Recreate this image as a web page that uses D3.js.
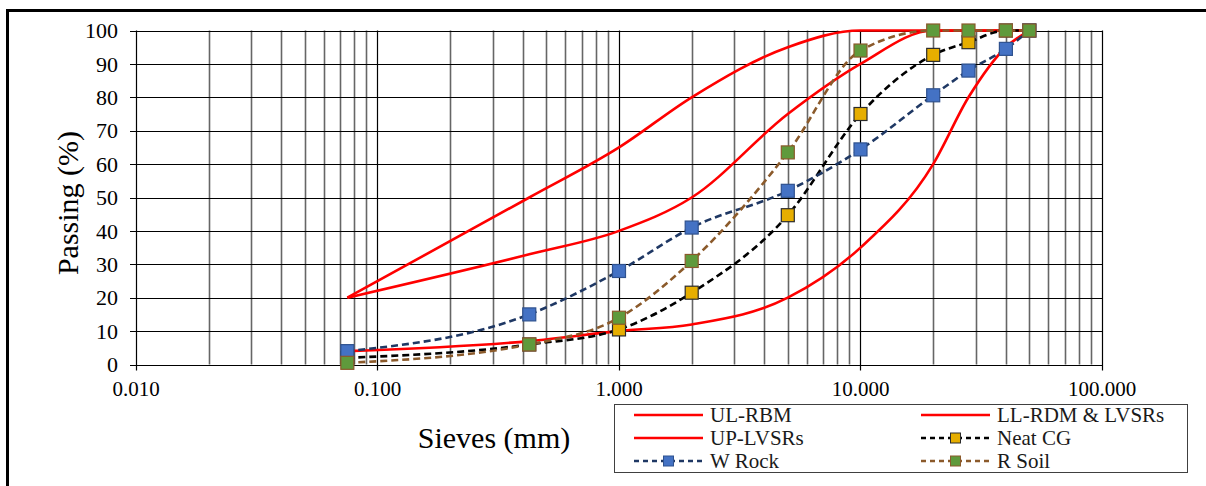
<!DOCTYPE html>
<meta charset="utf-8">
<style>
body { margin: 0; background: #fff; }
svg text { font-family: "Times New Roman", Times, "Liberation Serif", serif; }
.grid-h line { stroke: #000; stroke-width: 1; }
.grid-minor line { stroke: #666; stroke-width: 1.6; }
.grid-major line { stroke: #000; stroke-width: 1.2; }
.tick-label { font-size: 21px; fill: #000; }
.title { font-size: 30px; fill: #000; }
.legend text { font-size: 21px; fill: #1a1a1a; }
</style>
<svg width="1206" height="486"></svg>
<script src="https://d3js.org/d3.v7.min.js"></script>
<script>

var sieves = [0.075, 0.425, 1, 2, 5, 10, 20, 28, 40, 50];
var ulRbm  = [20, 50, 65, 80, 95, 100, 100, 100, 100, 100];
var llRdm  = [4, 7, 10, 12, 20, 35, 60, 80, 95, 100];
var upLvsr = [20, 33, 40, 50, 75, 90, 100, 100, 100, 100];
var neatCg = [2, 6, 10.5, 21.5, 44.7, 75, 92.7, 96.5, 100, 100];
var wRock  = [4, 15, 28, 41, 52, 64.4, 80.6, 88, 94.5, 100];
var rSoil  = [0.5, 6, 14, 31, 63.5, 94, 100, 100, 100, 100];

var xTicks = [0.01, 0.1, 1, 10, 100];
var yTicks = [0, 10, 20, 30, 40, 50, 60, 70, 80, 90, 100];

var series = [
  {name: "UL-RBM", values: ulRbm, color: "#ff0000", dash: null, marker: null},
  {name: "LL-RDM & LVSRs", values: llRdm, color: "#ff0000", dash: null, marker: null},
  {name: "UP-LVSRs", values: upLvsr, color: "#ff0000", dash: null, marker: null},
  {name: "Neat CG", values: neatCg, color: "#000000", dash: "7,4", marker: {fill: "#e6ae00", stroke: "#2b2b2b"}},
  {name: "W Rock", values: wRock, color: "#1f3864", dash: "7,4", marker: {fill: "#4472c4", stroke: "#2f528f"}},
  {name: "R Soil", values: rSoil, color: "#8b5a2b", dash: "7,4", marker: {fill: "#5f9a3c", stroke: "#8b5a2b"}}
];

var svg = d3.select("svg");
var serif = "'Times New Roman', Times, 'Liberation Serif', serif";

// outer frame
svg.append("path")
    .attr("d", "M7.5,490 L7.5,10.5 L1210,10.5")
    .attr("fill", "none")
    .attr("stroke", "#000")
    .attr("stroke-width", 3);

var x = d3.scaleLog().domain([0.01, 100]).range([136, 1102]);
var y = d3.scaleLinear().domain([0, 100]).range([364.5, 30.5]);

// minor vertical grid
var minors = [];
[0.01, 0.1, 1, 10].forEach(function(d) {
  for (var k = 2; k <= 9; k++) minors.push(d * k);
});

svg.append("g").attr("class", "grid-minor")
  .selectAll("line").data(minors).enter().append("line")
    .attr("x1", function(d) { return Math.round(x(d)) + 0.5; })
    .attr("x2", function(d) { return Math.round(x(d)) + 0.5; })
    .attr("y1", y(100)).attr("y2", y(0));

svg.append("g").attr("class", "grid-h")
  .selectAll("line").data(yTicks).enter().append("line")
    .attr("x1", x(0.01) - 6).attr("x2", x(100))
    .attr("y1", function(d) { return Math.round(y(d)) + 0.5; })
    .attr("y2", function(d) { return Math.round(y(d)) + 0.5; });

svg.append("g").attr("class", "grid-major")
  .selectAll("line").data(xTicks).enter().append("line")
    .attr("x1", function(d) { return Math.round(x(d)) + 0.5; })
    .attr("x2", function(d) { return Math.round(x(d)) + 0.5; })
    .attr("y1", y(100)).attr("y2", y(0) + 6);

// tick labels
svg.append("g").selectAll("text").data(yTicks).enter().append("text")
    .attr("class", "tick-label")
    .attr("font-family", serif)
    .attr("x", 118)
    .attr("y", function(d) { return y(d); })
    .attr("dy", "0.35em")
    .attr("text-anchor", "end")
    .style("font-size", "22px")
    .text(function(d) { return d; });

svg.append("g").selectAll("text").data(xTicks).enter().append("text")
    .attr("class", "tick-label")
    .attr("font-family", serif)
    .attr("x", function(d) { return x(d); })
    .attr("y", 396)
    .attr("text-anchor", "middle")
    .text(function(d) { return d3.format(".3f")(d); });

svg.append("text").attr("class", "title")
    .attr("font-family", serif)
    .attr("transform", "translate(78,203) rotate(-90)")
    .attr("text-anchor", "middle")
    .text("Passing (%)");

svg.append("text").attr("class", "title")
    .attr("font-family", serif)
    .attr("x", 494).attr("y", 448)
    .attr("text-anchor", "middle")
    .text("Sieves (mm)");

// curves
var line = d3.line()
    .x(function(d) { return x(d[0]); })
    .y(function(d) { return y(d[1]); })
    .curve(d3.curveMonotoneX);

series.forEach(function(s) {
  var pts = sieves.map(function(v, i) { return [v, s.values[i]]; });
  svg.append("path")
      .attr("d", line(pts))
      .attr("fill", "none")
      .attr("stroke", s.color)
      .attr("stroke-width", 2.6)
      .attr("stroke-dasharray", s.dash);
});

series.forEach(function(s) {
  if (!s.marker) return;
  var pts = sieves.map(function(v, i) { return [v, s.values[i]]; });
  svg.append("g").selectAll("rect").data(pts).enter().append("rect")
      .attr("x", function(d) { return x(d[0]) - 6.5; })
      .attr("y", function(d) { return y(d[1]) - 6.5; })
      .attr("width", 13).attr("height", 13)
      .attr("fill", s.marker.fill)
      .attr("stroke", s.marker.stroke)
      .attr("stroke-width", 1.2);
});

// legend
var lg = svg.append("g").attr("class", "legend");
lg.append("rect")
    .attr("x", 614.5).attr("y", 404.5).attr("width", 573).attr("height", 68)
    .attr("fill", "#fff").attr("stroke", "#404040").attr("stroke-width", 1);

var cols = [634, 921];
var rows = [415, 438, 461];
series.forEach(function(s, i) {
  var cx = cols[i % 2], cy = rows[Math.floor(i / 2)];
  lg.append("line")
      .attr("x1", cx).attr("x2", cx + 69)
      .attr("y1", cy).attr("y2", cy)
      .attr("stroke", s.color).attr("stroke-width", 2.6)
      .attr("stroke-dasharray", s.dash ? "5,4" : null);
  if (s.marker) {
    lg.append("rect")
        .attr("x", cx + 34.5 - 5).attr("y", cy - 5)
        .attr("width", 10).attr("height", 10)
        .attr("fill", s.marker.fill).attr("stroke", s.marker.stroke);
  }
  lg.append("text")
      .attr("font-family", serif)
      .attr("x", cx + 76).attr("y", cy)
      .attr("dy", "0.35em")
      .text(s.name);
});

</script>
